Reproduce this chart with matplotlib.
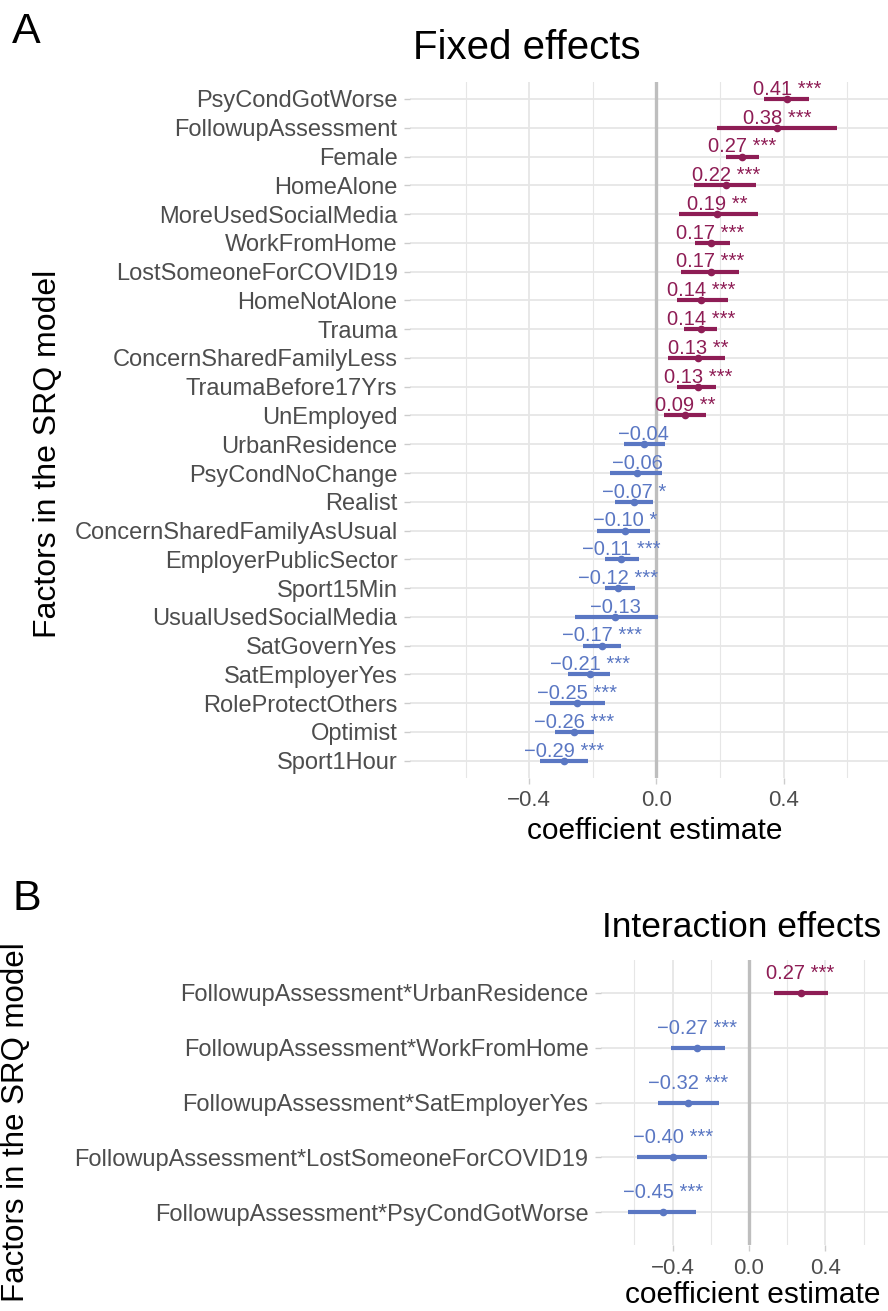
import numpy as np
import matplotlib
matplotlib.use('Agg')
import matplotlib.pyplot as plt

plt.rcParams['font.family'] = ['Liberation Sans', 'DejaVu Sans']

# fixed effects
fixed_terms = ['PsyCondGotWorse', 'FollowupAssessment', 'Female', 'HomeAlone',
               'MoreUsedSocialMedia', 'WorkFromHome', 'LostSomeoneForCOVID19',
               'HomeNotAlone', 'Trauma', 'ConcernSharedFamilyLess', 'TraumaBefore17Yrs',
               'UnEmployed', 'UrbanResidence', 'PsyCondNoChange', 'Realist',
               'ConcernSharedFamilyAsUsual', 'EmployerPublicSector', 'Sport15Min',
               'UsualUsedSocialMedia', 'SatGovernYes', 'SatEmployerYes',
               'RoleProtectOthers', 'Optimist', 'Sport1Hour']
fixed_est = [0.41, 0.38, 0.27, 0.22, 0.19, 0.17, 0.17, 0.14, 0.14, 0.13, 0.13, 0.09,
             -0.04, -0.06, -0.07, -0.10, -0.11, -0.12, -0.13, -0.17, -0.21, -0.25, -0.26, -0.29]
fixed_lo = [0.338, 0.189, 0.219, 0.118, 0.070, 0.121, 0.076, 0.064, 0.088, 0.036, 0.063, 0.025,
            -0.103, -0.145, -0.129, -0.188, -0.161, -0.163, -0.257, -0.232, -0.277, -0.336, -0.318, -0.367]
fixed_hi = [0.479, 0.569, 0.322, 0.314, 0.318, 0.230, 0.258, 0.224, 0.189, 0.215, 0.188, 0.156,
            0.028, 0.018, -0.010, -0.019, -0.054, -0.068, 0.005, -0.113, -0.147, -0.163, -0.195, -0.216]
fixed_stars = ['***', '***', '***', '***', '**', '***', '***', '***', '***', '**', '***', '**',
               '', '', '*', '*', '***', '***', '', '***', '***', '***', '***', '***']

# interaction effects
int_terms = ['FollowupAssessment*UrbanResidence', 'FollowupAssessment*WorkFromHome',
             'FollowupAssessment*SatEmployerYes', 'FollowupAssessment*LostSomeoneForCOVID19',
             'FollowupAssessment*PsyCondGotWorse']
int_est = [0.27, -0.27, -0.32, -0.40, -0.45]
int_lo = [0.132, -0.41, -0.475, -0.584, -0.633]
int_hi = [0.414, -0.124, -0.158, -0.219, -0.277]
int_stars = ['***', '***', '***', '***', '***']

xticks = [-0.4, 0.0, 0.4]
xminor = [-0.6, -0.2, 0.2, 0.6]

POS = '#8E1D55'
NEG = '#5A77C3'
W, H = 888, 1311


def fmt(v):
    s = '%.2f' % abs(v)
    return ('\u2212' + s) if v < 0 else s


def panel(ax, terms, est, lo, hi, stars, ylab_size, lab_off):
    n = len(terms)
    y = np.arange(n)
    ax.set_xlim(-0.775, 0.728)
    ax.set_ylim(n - 0.4, -0.6)
    ax.set_xticks(xticks)
    ax.set_xticks(xminor, minor=True)
    ax.set_xticklabels(['\u22120.4', '0.0', '0.4'])
    ax.set_yticks(y)
    ax.set_yticklabels(terms)
    ax.grid(which='major', color='#E6E6E6', lw=1.3)
    ax.grid(which='minor', axis='x', color='#E6E6E6', lw=0.8)
    ax.set_axisbelow(True)
    for s in ax.spines.values():
        s.set_visible(False)
    ax.tick_params(axis='both', which='major', length=4, color='#CCCCCC',
                   labelcolor='#4D4D4D', width=1)
    ax.tick_params(axis='y', labelsize=ylab_size, pad=5)
    ax.tick_params(axis='x', labelsize=16, pad=5)
    ax.tick_params(axis='x', which='minor', length=0)
    ax.axvline(0, color='#BEBEBE', lw=2.4, zorder=1.5)
    for i in range(n):
        c = POS if est[i] > 0 else NEG
        ax.plot([lo[i], hi[i]], [i, i], color=c, lw=3, solid_capstyle='butt', zorder=3)
        ax.plot(est[i], i, 'o', color=c, ms=4.5, zorder=4)
        lab = fmt(est[i]) + (' ' + stars[i] if stars[i] else '')
        ax.annotate(lab, (est[i], i), xytext=(0, lab_off), textcoords='offset points',
                    ha='center', va='baseline', color=c, fontsize=14.5, zorder=5)


fig = plt.figure(figsize=(W / 100, H / 100), dpi=100)

ax1 = fig.add_axes([410 / W, 1 - 778 / H, 478 / W, (778 - 81.7) / H])
panel(ax1, fixed_terms, fixed_est, fixed_lo, fixed_hi, fixed_stars, 17, 3)

ax2 = fig.add_axes([601 / W, 1 - 1245 / H, 287 / W, 285 / H])
panel(ax2, int_terms, int_est, int_lo, int_hi, int_stars, 17, 10)

fig.text(12 / W, 1 - 43 / H, 'A', fontsize=31, ha='left', va='baseline')
fig.text(12 / W, 1 - 910 / H, 'B', fontsize=31, ha='left', va='baseline')

fig.text(413 / W, 1 - 59 / H, 'Fixed effects', fontsize=29, ha='left', va='baseline')
fig.text(602 / W, 1 - 937 / H, 'Interaction effects', fontsize=25.5, ha='left', va='baseline')

fig.text(655 / W, 1 - 839 / H, 'coefficient estimate', fontsize=21.5, ha='center', va='baseline')
fig.text(753 / W, 1 - 1303 / H, 'coefficient estimate', fontsize=21.5, ha='center', va='baseline')

fig.text(48 / W, 1 - 454 / H, 'Factors in the SRQ model', fontsize=23, rotation=90,
         ha='center', va='center')
fig.text(16 / W, 1 - 1122 / H, 'Factors in the SRQ model', fontsize=22.5, rotation=90,
         ha='center', va='center')

fig.savefig('out.png', dpi=100)
